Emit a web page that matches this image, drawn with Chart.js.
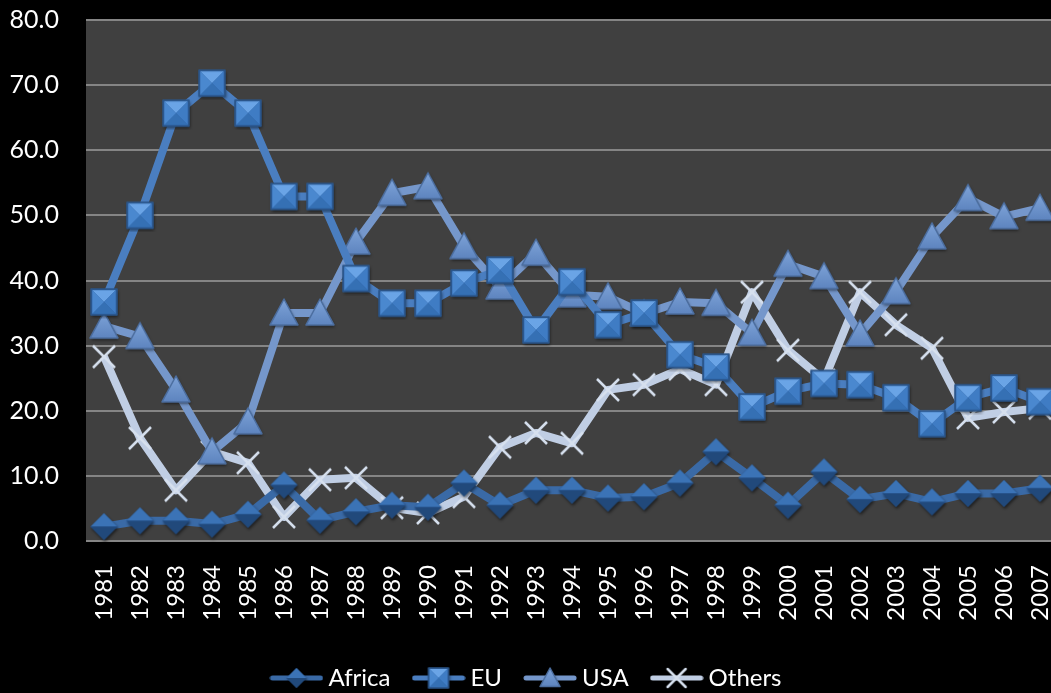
<!DOCTYPE html>
<html>
<head>
<meta charset="utf-8">
<title>Imports by origin 1981-2007</title>
<script src="https://cdn.jsdelivr.net/npm/chart.js@4/dist/chart.umd.min.js"></script>
<style>
    html, body { margin: 0; padding: 0; background: #000; overflow: hidden; }
    canvas { display: block; }
</style>
</head>
<body>
<canvas id="trendChart" width="1058" height="700"></canvas>
<script>
// data
const years = ['1981', '1982', '1983', '1984', '1985', '1986', '1987', '1988', '1989', '1990',
    '1991', '1992', '1993', '1994', '1995', '1996', '1997', '1998', '1999', '2000',
    '2001', '2002', '2003', '2004', '2005', '2006', '2007'];

const africa = [2.2, 3.1, 3.1, 2.6, 4.1, 8.6, 3.2, 4.5, 5.5, 5.2, 8.9, 5.5, 7.8, 7.8, 6.6, 6.8,
    8.9, 13.7, 9.7, 5.5, 10.6, 6.4, 7.3, 6.0, 7.3, 7.3, 8.1];
const eu = [36.7, 50.0, 65.7, 70.3, 65.7, 52.9, 52.9, 40.3, 36.5, 36.5, 39.6, 41.6, 32.4, 39.8,
    33.2, 35.0, 28.6, 26.7, 20.6, 23.0, 24.2, 24.0, 22.0, 18.0, 22.0, 23.5, 21.4];
const usa = [33.0, 31.4, 23.2, 13.7, 18.3, 35.0, 35.0, 45.9, 53.4, 54.4, 45.2, 39.0, 44.2, 37.8,
    37.5, 34.9, 36.7, 36.5, 31.9, 42.5, 40.6, 31.8, 38.3, 46.7, 52.6, 49.8, 51.1];
const others = [28.3, 15.8, 7.8, 13.7, 12.0, 3.7, 9.4, 9.7, 5.1, 4.3, 6.8, 14.4, 16.6, 15.0,
    23.2, 24.0, 26.4, 24.0, 38.2, 29.3, 24.7, 38.2, 33.2, 29.6, 18.9, 19.8, 20.4];

const yMin = 0;
const yMax = 80;
const yStep = 10;

const FONT = 'Lato, "Open Sans", sans-serif';

// draw one excel-like bevelled marker
function drawMarker(ctx, type, cx, cy, s) {
    const h = s / 2;
    ctx.save();
    ctx.lineJoin = 'round';
    if (type === 'square') {
        ctx.shadowColor = 'rgba(0,0,0,0.55)';
        ctx.shadowBlur = 3;
        ctx.shadowOffsetX = 1;
        ctx.shadowOffsetY = 2;
        ctx.fillStyle = '#2d5f9e';
        ctx.fillRect(cx - h, cy - h, s, s);
        ctx.shadowColor = 'transparent';
        const faces = [
            [[-h, -h], [h, -h], '#6aa4e6'],
            [[h, -h], [h, h], '#3f7cc4'],
            [[h, h], [-h, h], '#3570b4'],
            [[-h, h], [-h, -h], '#4a88cf']
        ];
        faces.forEach(f => {
            ctx.beginPath();
            ctx.moveTo(cx, cy);
            ctx.lineTo(cx + f[0][0] * 0.9, cy + f[0][1] * 0.9);
            ctx.lineTo(cx + f[1][0] * 0.9, cy + f[1][1] * 0.9);
            ctx.closePath();
            ctx.fillStyle = f[2];
            ctx.fill();
        });
        ctx.strokeStyle = '#2b5689';
        ctx.lineWidth = 1.5;
        ctx.strokeRect(cx - h, cy - h, s, s);
    } else if (type === 'diamond') {
        ctx.shadowColor = 'rgba(0,0,0,0.55)';
        ctx.shadowBlur = 3;
        ctx.shadowOffsetX = 1;
        ctx.shadowOffsetY = 2;
        ctx.beginPath();
        ctx.moveTo(cx, cy - h);
        ctx.lineTo(cx + h, cy);
        ctx.lineTo(cx, cy + h);
        ctx.lineTo(cx - h, cy);
        ctx.closePath();
        ctx.fillStyle = '#224c84';
        ctx.fill();
        ctx.shadowColor = 'transparent';
        ctx.beginPath();
        ctx.moveTo(cx, cy - h);
        ctx.lineTo(cx + h, cy);
        ctx.lineTo(cx - h, cy);
        ctx.closePath();
        ctx.fillStyle = '#3b73b6';
        ctx.fill();
        ctx.beginPath();
        ctx.moveTo(cx - h, cy);
        ctx.lineTo(cx + h, cy);
        ctx.lineTo(cx, cy + h);
        ctx.closePath();
        ctx.fillStyle = '#21497b';
        ctx.fill();
    } else if (type === 'triangle') {
        ctx.shadowColor = 'rgba(0,0,0,0.5)';
        ctx.shadowBlur = 3;
        ctx.shadowOffsetX = 1;
        ctx.shadowOffsetY = 2;
        ctx.beginPath();
        ctx.moveTo(cx, cy - h);
        ctx.lineTo(cx + h, cy + h * 0.85);
        ctx.lineTo(cx - h, cy + h * 0.85);
        ctx.closePath();
        const g = ctx.createLinearGradient(cx, cy - h, cx, cy + h);
        g.addColorStop(0, '#7ea3d8');
        g.addColorStop(1, '#5b82bd');
        ctx.fillStyle = g;
        ctx.fill();
        ctx.shadowColor = 'transparent';
        ctx.strokeStyle = '#4c6e9f';
        ctx.lineWidth = 1.5;
        ctx.stroke();
    } else {
        ctx.strokeStyle = '#d6e0ee';
        ctx.lineWidth = 2.5;
        ctx.beginPath();
        ctx.moveTo(cx - h, cy - h);
        ctx.lineTo(cx + h, cy + h);
        ctx.moveTo(cx + h, cy - h);
        ctx.lineTo(cx - h, cy + h);
        ctx.stroke();
    }
    ctx.restore();
}

function markerImage(type, s) {
    const c = document.createElement('canvas');
    c.width = s + 8;
    c.height = s + 8;
    drawMarker(c.getContext('2d'), type, c.width / 2, c.height / 2, s);
    return c;
}

function legendImage(type, color, s) {
    const c = document.createElement('canvas');
    c.width = 54;
    c.height = 26;
    const ctx = c.getContext('2d');
    ctx.strokeStyle = color;
    ctx.lineWidth = 5;
    ctx.lineCap = 'round';
    ctx.beginPath();
    ctx.moveTo(3, 13);
    ctx.lineTo(51, 13);
    ctx.stroke();
    drawMarker(ctx, type, 27, 13, s);
    return c;
}

const series = [
    { label: 'Africa', data: africa, color: '#3a6aa6', type: 'diamond', size: 27 },
    { label: 'EU', data: eu, color: '#4a7ec0', type: 'square', size: 26 },
    { label: 'USA', data: usa, color: '#7597cb', type: 'triangle', size: 28 },
    { label: 'Others', data: others, color: '#c0cee4', type: 'cross', size: 22 }
];

const plotBackground = {
    id: 'plotBackground',
    beforeDraw(chart) {
        const a = chart.chartArea;
        const ctx = chart.ctx;
        ctx.save();
        ctx.fillStyle = '#404040';
        ctx.fillRect(a.left, a.top, a.right - a.left, a.bottom - a.top);
        ctx.restore();
    }
};

const legendImages = series.map(s => legendImage(s.type, s.color, s.type === 'cross' ? 18 : 20));

const ctx = document.getElementById('trendChart').getContext('2d');
const chart = new Chart(ctx, {
    type: 'line',
    data: {
        labels: years,
        datasets: series.map(s => ({
            label: s.label,
            data: s.data,
            borderColor: s.color,
            backgroundColor: s.color,
            borderWidth: 8,
            borderJoinStyle: 'round',
            tension: 0,
            pointStyle: markerImage(s.type, s.size),
            pointRadius: 13,
            fill: false,
            clip: false
        }))
    },
    plugins: [plotBackground],
    options: {
        responsive: false,
        animation: false,
        // the big markers would otherwise add padding on the right
        layout: { autoPadding: false, padding: { top: 20, left: 0, right: 0, bottom: 0 } },
        plugins: {
            tooltip: { enabled: false },
            legend: {
                position: 'bottom',
                labels: {
                    color: '#ffffff',
                    font: { family: FONT, size: 24 },
                    usePointStyle: true,
                    pointStyleWidth: 40,
                    padding: 28,
                    generateLabels(chart) {
                        const items = Chart.defaults.plugins.legend.labels.generateLabels(chart);
                        items.forEach((it, i) => { it.pointStyle = legendImages[i]; });
                        return items;
                    }
                }
            }
        },
        scales: {
            x: {
                offset: true,
                // invisible tick marks push the labels down
                grid: {
                    display: true,
                    drawOnChartArea: false,
                    drawTicks: true,
                    tickLength: 24,
                    color: 'rgba(0,0,0,0)'
                },
                border: { display: false },
                ticks: {
                    color: '#ffffff',
                    font: { family: FONT, size: 24 },
                    minRotation: 90,
                    maxRotation: 90,
                    autoSkip: false,
                    padding: 0
                },
                afterFit(scale) {
                    scale.height = 97;
                    scale.paddingLeft = 0;
                    scale.paddingRight = 0;
                }
            },
            y: {
                min: yMin,
                max: yMax,
                grid: { color: '#858585', lineWidth: 2, drawTicks: false },
                border: { display: false },
                ticks: {
                    stepSize: yStep,
                    color: '#ffffff',
                    font: { family: FONT, size: 25 },
                    padding: 27,
                    callback: v => v.toFixed(1)
                },
                afterFit(scale) {
                    scale.width = 86;
                    scale.paddingTop = 0;
                    scale.paddingBottom = 0;
                }
            }
        }
    }
});
</script>
</body>
</html>
